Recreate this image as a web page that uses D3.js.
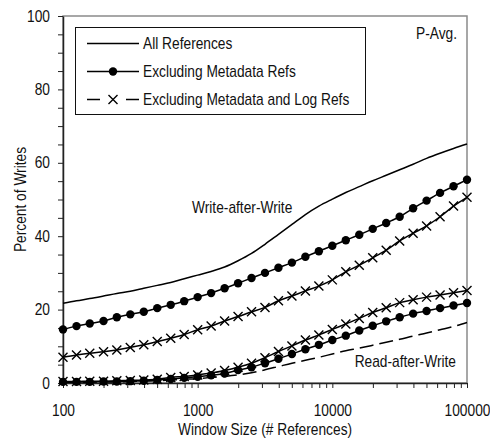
<!DOCTYPE html>
<html>
<head>
<meta charset="utf-8">
<script src="https://cdn.jsdelivr.net/npm/d3@7"></script>
<style>
  html, body { margin: 0; padding: 0; background: #fff; }
  svg { display: block; }
  text { font-family: "Liberation Sans", Arial, Helvetica, sans-serif; font-size: 16px; fill: #111; }
</style>
</head>
<body>
<svg id="chart" width="490" height="439"></svg>
<script>
// Window sizes (# references), ten steps per decade
const windowSizes = [100, 126, 158, 200, 251, 316, 398, 501, 631, 794,
  1000, 1259, 1585, 1995, 2512, 3162, 3981, 5012, 6310, 7943,
  10000, 12589, 15849, 19953, 25119, 31623, 39811, 50119, 63096, 79433, 100000];

// Write-after-Write curves (percent of writes)
const wawAll = [21.7, 22.4, 23.0, 23.7, 24.4, 25.0, 25.8, 26.6, 27.4, 28.4,
  29.4, 30.4, 31.6, 33.3, 35.3, 37.8, 40.5, 43.2, 45.9, 48.2,
  50.1, 51.9, 53.5, 55.1, 56.6, 58.1, 59.6, 61.2, 62.6, 63.9, 65.1];
const wawNoMeta = [14.6, 15.5, 16.2, 16.9, 17.9, 18.7, 19.4, 20.4, 21.3, 22.3,
  23.4, 24.5, 25.8, 27.2, 28.6, 30.0, 31.4, 32.8, 34.4, 35.9,
  37.4, 38.9, 40.4, 42.0, 43.6, 45.3, 47.6, 49.7, 51.8, 53.6, 55.4];
const wawNoMetaLog = [7.0, 7.6, 8.1, 8.5, 9.0, 9.7, 10.4, 11.3, 12.2, 13.2,
  14.5, 15.5, 16.9, 18.1, 19.4, 20.6, 22.4, 23.7, 25.1, 26.4,
  28.1, 30.3, 32.1, 34.1, 36.2, 38.7, 40.8, 42.8, 45.3, 48.2, 50.6];

// Read-after-Write curves (percent of writes)
const rawAll = [0.2, 0.2, 0.2, 0.3, 0.3, 0.4, 0.5, 0.6, 0.8, 1.0,
  1.2, 1.5, 1.8, 2.2, 2.8, 3.6, 4.5, 5.4, 6.2, 7.0,
  7.9, 8.8, 9.5, 10.3, 11.1, 11.9, 12.8, 13.6, 14.5, 15.4, 16.5];
const rawNoMeta = [0.3, 0.3, 0.3, 0.4, 0.4, 0.5, 0.6, 0.8, 1.1, 1.4,
  1.7, 2.1, 2.6, 3.5, 4.3, 5.4, 6.6, 7.9, 9.2, 10.4,
  11.7, 12.9, 14.3, 15.6, 16.8, 17.9, 18.9, 19.6, 20.4, 21.1, 21.8];
const rawNoMetaLog = [0.4, 0.4, 0.5, 0.5, 0.6, 0.7, 0.8, 1.0, 1.5, 1.8,
  2.2, 2.7, 3.4, 4.3, 5.4, 6.9, 8.6, 10.1, 11.7, 13.1,
  14.6, 16.1, 17.6, 19.2, 20.5, 21.9, 22.7, 23.4, 24.0, 24.6, 25.2];

// Axis ticks and labels
const yMajorTicks = [0, 20, 40, 60, 80, 100];
const xMajorTicks = [100, 1000, 10000, 100000];
const legendLabels = ["All References", "Excluding Metadata Refs", "Excluding Metadata and Log Refs"];
const curveLabels = ["Write-after-Write", "Read-after-Write"];
const panelLabel = "P-Avg.";
const xTitle = "Window Size (# References)";
const yTitle = "Percent of Writes";

// condensed sans look: horizontal squeeze applied to every label
const SQ = 0.86;

const svg = d3.select("#chart");
const plot = { left: 63, top: 16, right: 467, bottom: 383 };

const x = d3.scaleLog().domain([100, 100000]).range([plot.left, plot.right]);
const y = d3.scaleLinear().domain([0, 100]).range([plot.bottom, plot.top]);

function label(parent, px, py, str, anchor, rotate) {
  return parent.append("text")
    .attr("transform", `translate(${px},${py})` + (rotate ? ` rotate(${rotate})` : "") + ` scale(${SQ},1)`)
    .attr("text-anchor", anchor || "start")
    .text(str);
}

// plot frame: grey top/right border
svg.append("rect")
  .attr("x", plot.left).attr("y", plot.top)
  .attr("width", plot.right - plot.left).attr("height", plot.bottom - plot.top)
  .attr("fill", "none").attr("stroke", "#8a8a8a").attr("stroke-width", 1.5);

// y axis: labelled ticks every 20, minor every 5
const yMinor = d3.range(0, 101, 5);
const yAxis = d3.axisLeft(y).tickValues(yMinor).tickSize(5).tickSizeOuter(0)
  .tickFormat(d => yMajorTicks.includes(d) ? d : "");
const gy = svg.append("g").attr("transform", `translate(${plot.left},0)`).call(yAxis);
gy.attr("font-family", null).attr("font-size", null);
gy.select(".domain").attr("stroke", "#222").attr("stroke-width", 1.5);
gy.selectAll(".tick line").attr("stroke", "#222").attr("stroke-width", 1);
gy.selectAll(".tick text").attr("x", -13 / SQ).attr("transform", `scale(${SQ},1)`);

// x axis: log decades with minor ticks
const xMinor = [];
for (let dec = 100; dec < 100000; dec *= 10) {
  for (let m = 1; m < 10; m++) xMinor.push(dec * m);
}
xMinor.push(100000);
const xAxis = d3.axisBottom(x).tickValues(xMinor).tickSize(5).tickSizeOuter(0)
  .tickFormat(d => xMajorTicks.includes(d) ? d : "");
const gx = svg.append("g").attr("transform", `translate(0,${plot.bottom})`).call(xAxis);
gx.attr("font-family", null).attr("font-size", null);
gx.select(".domain").attr("stroke", "#222").attr("stroke-width", 1.5);
gx.selectAll(".tick line").attr("stroke", "#222").attr("stroke-width", 1);
gx.selectAll(".tick text").attr("y", 22).attr("transform", `scale(${SQ},1)`);
svg.selectAll(".tick text").attr("fill", "#111");

// axis titles
label(svg, (plot.left + plot.right) / 2, 435, xTitle, "middle");
label(svg, 26, (plot.top + plot.bottom) / 2, yTitle, "middle", -90);

const line = vals => d3.line()
  .x((d, i) => x(windowSizes[i]))
  .y(d => y(d))
  .curve(d3.curveMonotoneX)(vals);

const g = svg.append("g");

function drawSeries(vals, marker, dash) {
  g.append("path").attr("d", line(vals))
    .attr("fill", "none").attr("stroke", "#000").attr("stroke-width", 1.5)
    .attr("stroke-dasharray", dash || null);
  if (marker === "dot") {
    g.selectAll(null).data(vals).enter().append("circle")
      .attr("cx", (d, i) => x(windowSizes[i])).attr("cy", d => y(d))
      .attr("r", 4.2).attr("fill", "#000");
  } else if (marker === "cross") {
    g.selectAll(null).data(vals).enter().append("path")
      .attr("transform", (d, i) => `translate(${x(windowSizes[i])},${y(d)})`)
      .attr("d", "M-4.5,-4.5L4.5,4.5M-4.5,4.5L4.5,-4.5")
      .attr("stroke", "#000").attr("stroke-width", 1.4).attr("fill", "none");
  }
}

drawSeries(wawAll, null);
drawSeries(wawNoMeta, "dot");
drawSeries(wawNoMetaLog, "cross");
drawSeries(rawAll, null, "14,6");
drawSeries(rawNoMeta, "dot");
drawSeries(rawNoMetaLog, "cross");

// curve labels
label(svg, 192, 213, curveLabels[0], "start");
label(svg, 456, 367, curveLabels[1], "end");
label(svg, 457, 39, panelLabel, "end");

// legend
const lg = svg.append("g");
lg.append("rect").attr("x", 75.5).attr("y", 27.5).attr("width", 290).attr("height", 87)
  .attr("fill", "#fff").attr("stroke", "#111").attr("stroke-width", 1);
const rowsY = [43.5, 71.5, 99.5];
legendLabels.forEach((lab, i) => {
  const yy = rowsY[i];
  if (i === 2) {
    lg.append("line").attr("x1", 87).attr("x2", 100).attr("y1", yy).attr("y2", yy)
      .attr("stroke", "#000").attr("stroke-width", 1.5);
    lg.append("line").attr("x1", 126).attr("x2", 139).attr("y1", yy).attr("y2", yy)
      .attr("stroke", "#000").attr("stroke-width", 1.5);
    lg.append("path").attr("transform", `translate(113,${yy})`)
      .attr("d", "M-4.5,-4.5L4.5,4.5M-4.5,4.5L4.5,-4.5")
      .attr("stroke", "#000").attr("stroke-width", 1.4);
  } else {
    lg.append("line").attr("x1", 87).attr("x2", 139).attr("y1", yy).attr("y2", yy)
      .attr("stroke", "#000").attr("stroke-width", 1.5);
    if (i === 1) lg.append("circle").attr("cx", 113).attr("cy", yy).attr("r", 4.2).attr("fill", "#000");
  }
  label(lg, 143, yy + 5.5, lab, "start");
});
</script>
</body>
</html>
